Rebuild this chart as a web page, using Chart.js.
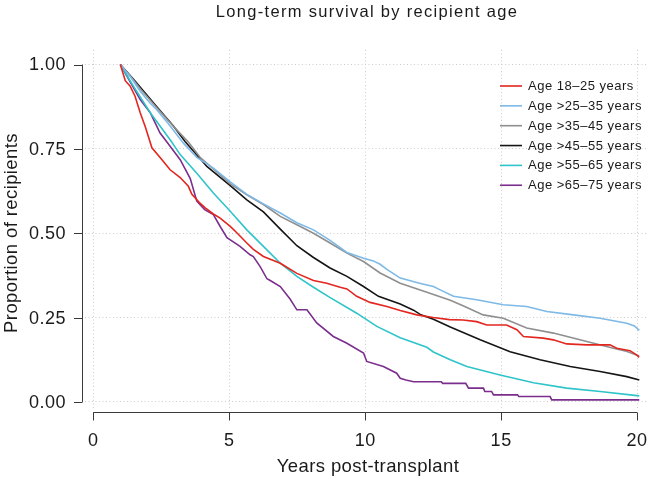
<!DOCTYPE html>
<html>
<head>
<meta charset="utf-8">
<script src="https://cdn.jsdelivr.net/npm/chart.js@4/dist/chart.umd.min.js"></script>
<style>
  html, body { margin: 0; padding: 0; background: #ffffff; }
  #wrap { width: 650px; height: 480px; position: relative; }
</style>
</head>
<body>
<div id="wrap"><canvas id="c" width="650" height="480"></canvas></div>
<script>
// ---- data ----
const chartTitle = "Long-term survival by recipient age";
const xAxisTitle = "Years post-transplant";
const yAxisTitle = "Proportion of recipients";
const xTicks = [0, 5, 10, 15, 20];
const yTicks = [0, 0.25, 0.5, 0.75, 1];
const seriesLabels = ["Age 18\u201325 years", "Age >25\u201335 years", "Age >35\u201345 years",
                      "Age >45\u201355 years", "Age >55\u201365 years", "Age >65\u201375 years"];
const seriesColors = ["#e3261f", "#7db9e6", "#8f8f8f", "#151515", "#2ec4c9", "#7b2e8c"];

const age18_25 = [[1,1],[1.18,0.952],[1.36,0.936],[1.54,0.906],[1.73,0.857],[1.91,0.817],[2.16,0.753],[2.53,0.718],[2.83,0.688],[3.2,0.665],[3.5,0.639],[3.63,0.615],[3.93,0.589],[4.12,0.575],[4.42,0.557],[4.67,0.545],[5.04,0.52],[5.3,0.5],[5.65,0.471],[5.89,0.452],[6.26,0.431],[6.88,0.411],[7.0,0.405],[7.49,0.381],[8.1,0.36],[8.59,0.352],[9.08,0.34],[9.33,0.335],[9.69,0.313],[10.18,0.295],[10.8,0.283],[11.29,0.271],[11.9,0.258],[12.5,0.25],[13.1,0.244],[13.6,0.243],[14.1,0.238],[14.47,0.228],[15.2,0.228],[15.58,0.214],[15.82,0.194],[16.55,0.189],[16.92,0.184],[17.41,0.172],[18.15,0.169],[19.0,0.169],[19.25,0.159],[19.74,0.152],[19.99,0.139],[20.07,0.132]];
const age25_35 = [[1,1],[1.4,0.96],[1.73,0.921],[2.1,0.885],[2.34,0.866],[2.71,0.83],[3.08,0.792],[3.32,0.767],[3.81,0.725],[4.42,0.693],[5.04,0.652],[5.65,0.615],[6.26,0.587],[6.88,0.56],[7.49,0.531],[8.1,0.51],[8.71,0.479],[9.33,0.443],[9.94,0.426],[10.3,0.418],[10.55,0.408],[10.8,0.393],[11.29,0.367],[11.53,0.362],[12.0,0.352],[12.51,0.342],[12.76,0.332],[13.25,0.313],[14.1,0.303],[15.08,0.288],[15.94,0.283],[16.68,0.268],[17.66,0.258],[18.64,0.248],[19.62,0.233],[19.9,0.225],[20.08,0.212]];
const age35_45 = [[1,1],[1.4,0.962],[1.73,0.928],[2.34,0.872],[2.95,0.817],[3.5,0.77],[3.93,0.725],[4.5,0.685],[5.04,0.646],[5.65,0.614],[6.26,0.585],[6.88,0.55],[7.49,0.525],[8.1,0.5],[8.71,0.471],[9.33,0.441],[9.94,0.416],[10.55,0.382],[11.29,0.352],[12.27,0.325],[13.13,0.301],[13.6,0.285],[14.34,0.258],[15.08,0.248],[15.94,0.219],[16.92,0.204],[18.15,0.179],[19.13,0.159],[19.6,0.15],[20.08,0.136]];
const age45_55 = [[1,1],[1.5,0.955],[2.34,0.875],[2.95,0.818],[3.38,0.772],[4.18,0.698],[5.04,0.641],[5.65,0.599],[6.26,0.563],[6.88,0.512],[7.49,0.463],[8.1,0.428],[8.71,0.397],[9.33,0.372],[9.94,0.342],[10.49,0.313],[11.29,0.29],[11.78,0.272],[12.05,0.258],[12.51,0.245],[13.13,0.222],[14.23,0.184],[15.33,0.149],[16.43,0.125],[17.54,0.105],[18.64,0.09],[19.62,0.075],[20.08,0.065]];
const age55_65 = [[1,1],[1.48,0.936],[2.1,0.857],[2.83,0.777],[3.2,0.733],[3.81,0.678],[4.42,0.619],[5.04,0.565],[5.65,0.51],[6.26,0.461],[6.88,0.411],[7.49,0.372],[8.1,0.34],[8.7,0.31],[9.69,0.263],[10.43,0.224],[11.29,0.19],[12.27,0.162],[12.51,0.148],[13.13,0.125],[13.74,0.105],[14.96,0.08],[16.19,0.057],[17.41,0.041],[18.64,0.031],[20.08,0.018]];
const age65_75 = [[1,1],[1.24,0.966],[1.73,0.896],[2.1,0.857],[2.46,0.797],[2.83,0.758],[3.2,0.718],[3.57,0.662],[3.81,0.595],[4.1,0.57],[4.42,0.555],[4.67,0.52],[4.92,0.487],[5.4,0.461],[5.77,0.436],[5.89,0.431],[6.14,0.401],[6.39,0.365],[6.51,0.36],[6.88,0.342],[7.24,0.305],[7.49,0.273],[7.86,0.273],[8.22,0.234],[8.83,0.194],[9.33,0.174],[9.94,0.145],[10.06,0.12],[10.67,0.105],[11.16,0.085],[11.29,0.07],[11.5,0.065],[11.78,0.06],[12.8,0.06],[12.85,0.055],[13.7,0.055],[13.8,0.041],[14.35,0.041],[14.4,0.031],[14.65,0.031],[14.72,0.021],[15.6,0.021],[15.65,0.016],[16.8,0.016],[16.86,0.006],[20.08,0.006]];
const seriesData = [age18_25, age25_35, age35_45, age45_55, age55_65, age65_75];

// ---- chart ----
const FONT = '"Liberation Sans", Arial, Helvetica, sans-serif';

const decorPlugin = {
  id: 'decor',
  afterDraw(chart) {
    const ctx = chart.ctx;
    const xs = chart.scales.x, ys = chart.scales.y;
    ctx.save();
    // axes lines
    ctx.strokeStyle = '#3a3a3a';
    ctx.lineWidth = 1;
    const yLineX = 82.5;
    ctx.beginPath();
    ctx.moveTo(yLineX, ys.getPixelForValue(yTicks[yTicks.length - 1]));
    ctx.lineTo(yLineX, ys.getPixelForValue(yTicks[0]));
    yTicks.forEach(v => {
      const p = Math.round(ys.getPixelForValue(v)) + 0.5;
      ctx.moveTo(yLineX, p); ctx.lineTo(74, p);
    });
    ctx.stroke();
    const xLineY = 412.5;
    ctx.beginPath();
    ctx.moveTo(xs.getPixelForValue(xTicks[0]), xLineY);
    ctx.lineTo(xs.getPixelForValue(xTicks[xTicks.length - 1]), xLineY);
    xTicks.forEach(v => {
      const p = Math.round(xs.getPixelForValue(v)) + 0.5;
      ctx.moveTo(p, xLineY); ctx.lineTo(p, 420.5);
    });
    ctx.stroke();

    // tick labels
    ctx.fillStyle = '#1a1a1a';
    ctx.font = '18px ' + FONT;
    ctx.letterSpacing = '0.5px';
    ctx.textAlign = 'right';
    ctx.textBaseline = 'middle';
    yTicks.forEach(v => ctx.fillText(v.toFixed(2), 66, ys.getPixelForValue(v) + 1));
    ctx.textAlign = 'center';
    xTicks.forEach(v => ctx.fillText(String(v), xs.getPixelForValue(v), 441));

    // axis titles
    ctx.font = '18.5px ' + FONT;
    ctx.letterSpacing = '0.4px';
    ctx.textAlign = 'center';
    ctx.textBaseline = 'alphabetic';
    ctx.fillText(xAxisTitle, 368, 472);
    ctx.save();
    ctx.translate(16.5, 233);
    ctx.rotate(-Math.PI / 2);
    ctx.fillText(yAxisTitle, 0, 0);
    ctx.restore();

    // title
    ctx.font = '16.5px ' + FONT;
    ctx.letterSpacing = '1.3px';
    ctx.fillText(chartTitle, 367, 17);

    // legend
    ctx.font = '13px ' + FONT;
    ctx.letterSpacing = '0.5px';
    ctx.textAlign = 'left';
    ctx.textBaseline = 'middle';
    const legY0 = 86, legStep = 19.85;
    seriesLabels.forEach((lab, i) => {
      const y = legY0 + i * legStep;
      ctx.strokeStyle = seriesColors[i];
      ctx.lineWidth = 1.6;
      ctx.beginPath();
      ctx.moveTo(500, y); ctx.lineTo(522, y);
      ctx.stroke();
      ctx.fillStyle = '#1a1a1a';
      ctx.fillText(lab, 528, y + 0.5);
    });
    ctx.restore();
  }
};

new Chart(document.getElementById('c'), {
  type: 'line',
  data: {
    datasets: seriesData.map((d, i) => ({
      label: seriesLabels[i],
      data: d.map(p => ({ x: p[0], y: p[1] })),
      borderColor: seriesColors[i],
      backgroundColor: seriesColors[i],
      borderWidth: 1.6,
      pointRadius: 0,
      tension: 0,
      fill: false
    }))
  },
  options: {
    responsive: false,
    animation: false,
    devicePixelRatio: 1,
    layout: { padding: { left: 85, right: 2, top: 50, bottom: 72 } },
    plugins: { legend: { display: false }, title: { display: false }, tooltip: { enabled: false } },
    scales: {
      x: {
        type: 'linear', min: -0.3, max: 20.4,
        afterBuildTicks: s => { s.ticks = xTicks.map(v => ({ value: v })); },
        ticks: { display: false },
        grid: { color: '#cdcdcd', lineWidth: 1, drawTicks: false },
        border: { display: false, dash: [1, 2.5] },
        title: { display: false }
      },
      y: {
        type: 'linear', min: -0.018, max: 1.043,
        afterBuildTicks: s => { s.ticks = yTicks.map(v => ({ value: v })); },
        ticks: { display: false },
        grid: { color: '#cdcdcd', lineWidth: 1, drawTicks: false },
        border: { display: false, dash: [1, 2.5] },
        title: { display: false }
      }
    }
  },
  plugins: [decorPlugin]
});
</script>
</body>
</html>
